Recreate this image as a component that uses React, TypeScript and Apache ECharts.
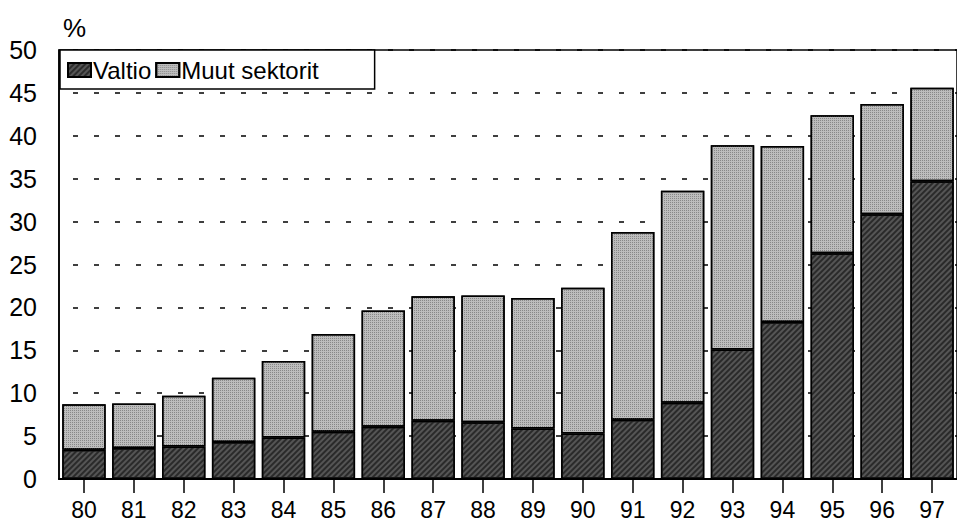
import React, { useEffect, useRef } from "react";
import * as echarts from "echarts";

const categories = ["80", "81", "82", "83", "84", "85", "86", "87", "88", "89", "90", "91", "92", "93", "94", "95", "96", "97"];
const valtio = [3.4, 3.6, 3.8, 4.3, 4.85, 5.5, 6.1, 6.8, 6.6, 5.9, 5.3, 6.9, 8.9, 15.1, 18.3, 26.3, 30.85, 34.7];
const totals = [8.7, 8.8, 9.7, 11.8, 13.75, 16.9, 19.65, 21.3, 21.4, 21.1, 22.3, 28.8, 33.6, 38.9, 38.8, 42.4, 43.7, 45.6];
const muut = totals.map((t, i) => Math.round((t - valtio[i]) * 100) / 100);
const yTicks = { min: 0, max: 50, interval: 5 };

const FONT = "Liberation Sans";

export default function App() {
  const ref = useRef<HTMLDivElement>(null);
  useEffect(() => {
    if (!ref.current) return;
    const chart = echarts.init(ref.current, undefined, { renderer: "svg" });
    chart.setOption({
      animation: false,
      backgroundColor: "#ffffff",
      textStyle: { fontFamily: FONT, color: "#000" },
      grid: {
        left: 59,
        top: 50,
        bottom: 48,
        right: -8,
        show: true,
        borderColor: "#000",
        borderWidth: 1.5,
        backgroundColor: "transparent",
      },
      graphic: [
        {
          type: "text",
          left: 63,
          top: 15,
          style: { text: "%", fontSize: 26, fontFamily: FONT, fill: "#000" },
        },
      ],
      legend: {
        left: 60,
        top: 50,
        orient: "horizontal",
        backgroundColor: "#ffffff",
        borderColor: "#000",
        borderWidth: 1.5,
        padding: [8, 56, 7, 7],
        itemGap: 4,
        itemWidth: 23,
        itemHeight: 14,
        icon: "rect",
        textStyle: { fontSize: 24, fontFamily: FONT, color: "#000", padding: [0, 0, 0, -3] },
        data: ["Valtio", "Muut sektorit"],
      },
      xAxis: {
        type: "category",
        data: categories,
        axisLine: { lineStyle: { color: "#000", width: 2 } },
        axisTick: { show: true, alignWithLabel: true, interval: 0, length: 14, lineStyle: { color: "#000", width: 1.5 } },
        axisLabel: { fontSize: 23, fontFamily: FONT, color: "#000", margin: 19, interval: 0 },
      },
      yAxis: {
        type: "value",
        min: yTicks.min,
        max: yTicks.max,
        interval: yTicks.interval,
        axisLine: { show: true, lineStyle: { color: "#000", width: 1.5 } },
        axisTick: { show: false },
        axisLabel: { fontSize: 25, fontFamily: FONT, color: "#000", margin: 22 },
        splitLine: { show: true, lineStyle: { color: "#000", width: 1.5, type: [5, 16], dashOffset: -14 } },
      },
      series: [
        {
          name: "Valtio",
          type: "bar",
          stack: "total",
          data: valtio,
          barCategoryGap: "13%",
          itemStyle: {
            color: "#555555",
            borderColor: "#000",
            borderWidth: 1.5,
            decal: {
              symbol: "rect",
              symbolSize: 1,
              color: "#2a2a2a",
              backgroundColor: "#7a7a7a",
              dashArrayX: [1, 0],
              dashArrayY: [2, 1.5],
              rotation: -Math.PI / 4,
            },
          },
        },
        {
          name: "Muut sektorit",
          type: "bar",
          stack: "total",
          data: muut,
          barCategoryGap: "13%",
          itemStyle: {
            color: "#bdbdbd",
            borderColor: "#000",
            borderWidth: 1.5,
            decal: {
              symbol: "rect",
              symbolSize: 1,
              color: "#888888",
              backgroundColor: "#d6d6d6",
              dashArrayX: [1, 1],
              dashArrayY: [1, 1],
              rotation: 0,
            },
          },
        },
      ],
    });
    return () => chart.dispose();
  }, []);
  return <div ref={ref} style={{ width: 957, height: 527, position: "fixed", left: 0, top: 0 }} />;
}
